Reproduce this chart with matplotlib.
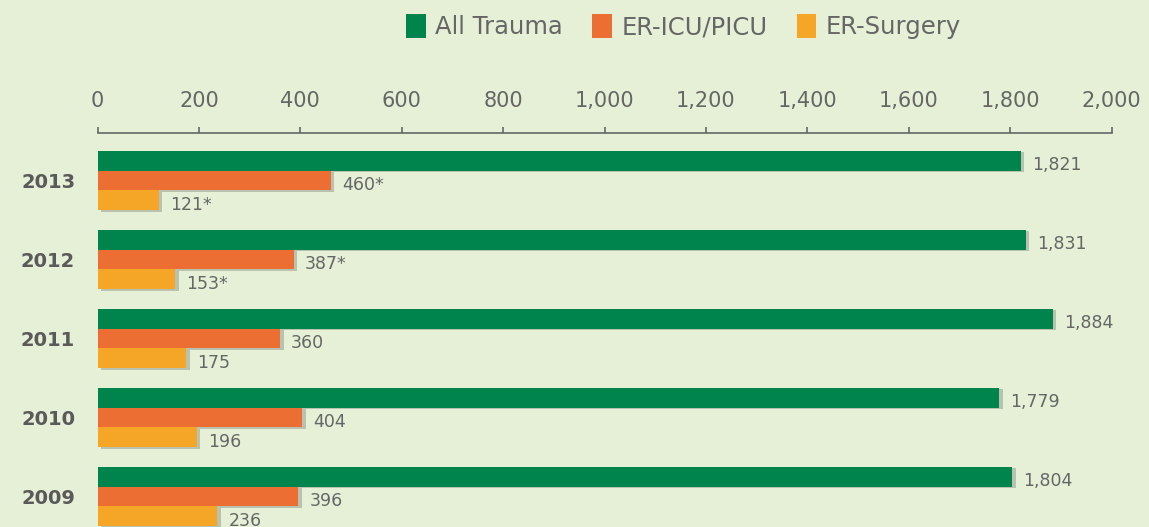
import matplotlib
matplotlib.use("Agg")
import matplotlib.pyplot as plt
import matplotlib.patheffects as pe
from matplotlib.patches import Patch
import numpy as np

years = ["2013", "2012", "2011", "2010", "2009"]
all_trauma = [1821, 1831, 1884, 1779, 1804]
er_icu = [460, 387, 360, 404, 396]
er_surgery = [121, 153, 175, 196, 236]
icu_labels = ["460*", "387*", "360", "404", "396"]
surg_labels = ["121*", "153*", "175", "196", "236"]
series_names = ["All Trauma", "ER-ICU/PICU", "ER-Surgery"]

bg = "#e5f0d6"
green = "#00844e"
orange = "#ec6e33"
yellow = "#f6a627"
txt = "#666666"

fig = plt.figure(figsize=(11.49, 5.27), dpi=100, facecolor=bg)
ax = fig.add_axes([0.0849, 0.0, 0.8825, 0.7476], facecolor=bg)

pos = np.arange(len(years)) * 4
shadow = [pe.SimplePatchShadow(offset=(2.5, -1), shadow_rgbFace="#555555", alpha=0.3), pe.Normal()]

series = [(all_trauma, green, -1, [f"{v:,}" for v in all_trauma]),
          (er_icu, orange, 0, icu_labels),
          (er_surgery, yellow, 1, surg_labels)]
for vals, col, off, labs in series:
    bars = ax.barh(pos + off, vals, height=1.0, color=col, edgecolor="none")
    for b in bars:
        b.set_path_effects(shadow)
    for y, v, lab in zip(pos + off, vals, labs):
        ax.annotate(lab, (v, y), xytext=(8, -3), textcoords="offset points",
                    ha="left", va="center", fontsize=12.5, color=txt)

for y, yr in zip(pos, years):
    ax.text(-0.022, y + 0.1, yr, transform=ax.get_yaxis_transform(), ha="right", va="center",
            fontsize=14, fontweight="bold", color="#5a5a5a")

ax.set_xlim(0, 2000)
ax.set_ylim(17.54, -2.41)
ax.xaxis.tick_top()
ax.set_xticks(range(0, 2001, 200))
ax.set_xticklabels([f"{v:,}" for v in range(0, 2001, 200)])
ax.tick_params(axis="x", direction="out", length=4, width=1.2, color="#666666",
               labelsize=15, labelcolor=txt, pad=12)
ax.set_yticks([])
for s in ["bottom", "left", "right"]:
    ax.spines[s].set_visible(False)
ax.spines["top"].set_color("#666666")
ax.spines["top"].set_linewidth(1.2)

handles = [Patch(facecolor=c, edgecolor="none") for c in [green, orange, yellow]]
fig.legend(handles, series_names, loc="center", bbox_to_anchor=(0.595, 0.949), ncol=3,
           frameon=False, fontsize=17.5, labelcolor=txt, handlelength=0.8, handleheight=1.1,
           handletextpad=0.4, columnspacing=1.2)

fig.savefig("out.png", dpi=100, facecolor=bg)
